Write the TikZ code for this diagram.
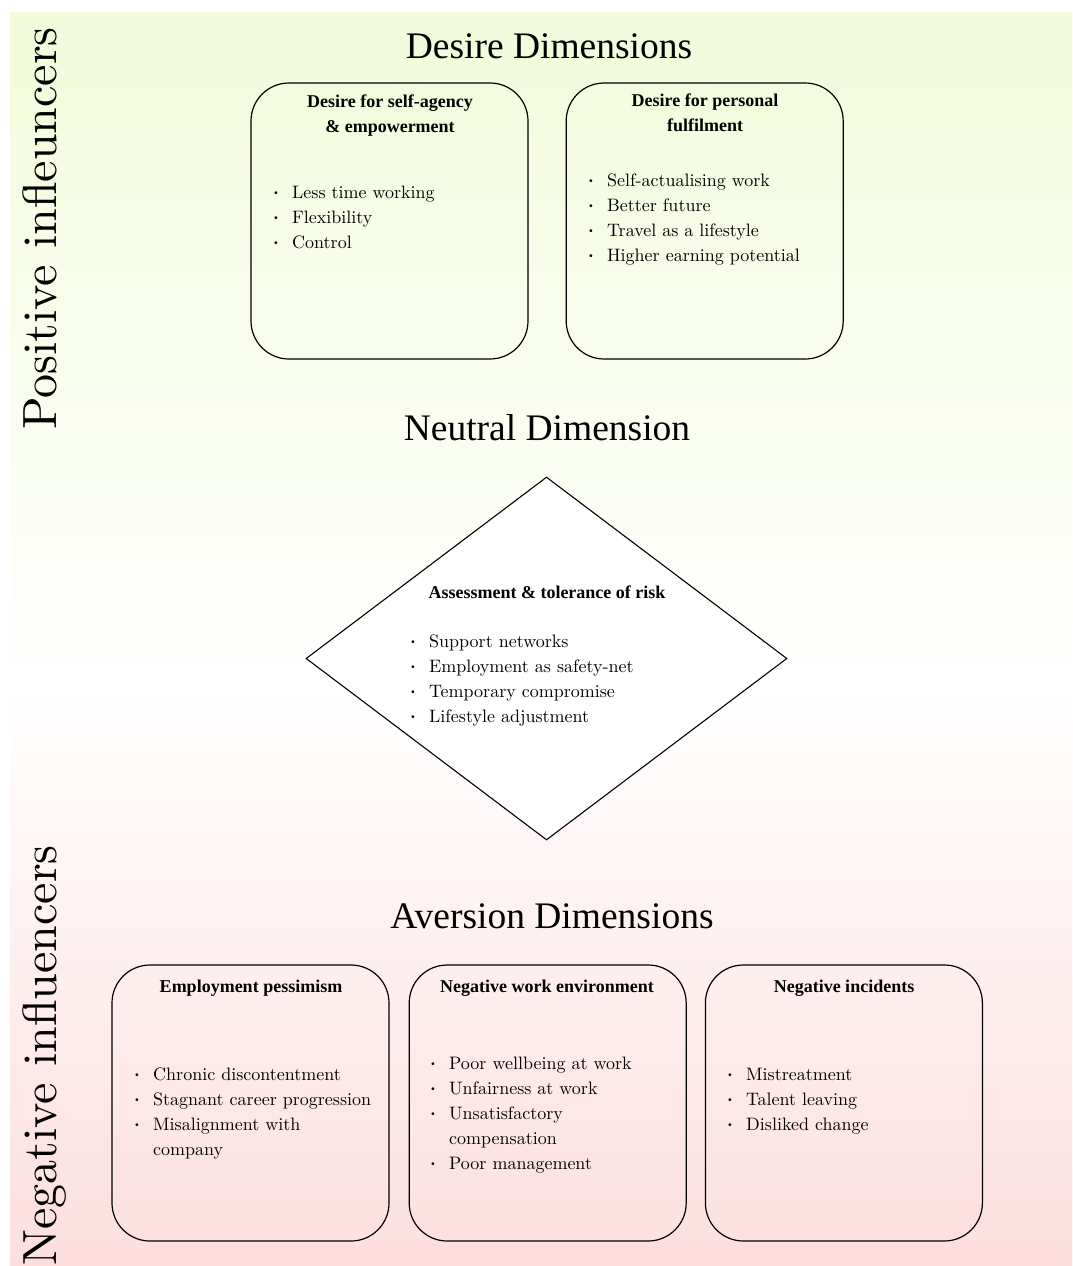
\documentclass[tikz,border=0pt]{standalone}
\usepackage{fontspec}
\newfontfamily\headfont{Liberation Serif}
\newfontfamily\bodyfont[Extension=.otf]{lmroman10-regular}
\usepackage{tikz}
\usetikzlibrary{positioning,shapes.geometric}
\definecolor{posgreen}{RGB}{242,251,218}
\definecolor{negpink}{RGB}{253,222,222}
\newcommand{\itm}{\makebox[20pt][l]{\raisebox{3pt}{\fontsize{10}{10}\selectfont\textbullet}}}
\newcommand{\cont}{\hspace*{20pt}}

\begin{document}
\begin{tikzpicture}[x=1pt,y=-1pt,
  dimbox/.style={draw,line width=1.2pt,rounded corners=38pt,minimum width=277pt,minimum height=276pt,inner sep=0pt},
  riskdiamond/.style={draw,line width=1.1pt,fill=white,diamond,minimum width=481pt,minimum height=363pt,inner sep=0pt},
  heading/.style={font=\headfont\fontsize{37.5}{40}\selectfont,inner sep=0pt,anchor=base},
  boxtitle/.style={font=\headfont\bfseries\fontsize{18}{25}\selectfont,inner sep=0pt,anchor=base},
  items/.style={font=\bodyfont\fontsize{18}{25}\selectfont,inner sep=0pt,anchor=base west},
  sidelabel/.style={font=\bodyfont\fontsize{48}{50}\selectfont,inner sep=0pt,rotate=90}]
\useasboundingbox (0,0) rectangle (1072,1266);
\clip (0,0) rectangle (1072,1266);
\fill[white] (0,0) rectangle (1072,1266);
\shade[top color=posgreen,bottom color=white] (10,12) rectangle (1072,691);
\shade[top color=white,bottom color=negpink] (10,690) rectangle (1072,1266);

\node[heading] (desire) at (549,58) {Desire Dimensions};
\node[dimbox] (agency) at (389.5,221) {};
\node[dimbox,right=37pt of agency] (fulfil) {};
\node[boxtitle] (agencyt) at (390,107) {\begin{tabular}[t]{@{}c@{}}Desire for self-agency\\ \& empowerment\end{tabular}};
\node[boxtitle] (fulfilt) at (705,106) {\begin{tabular}[t]{@{}c@{}}Desire for personal\\ fulfilment\end{tabular}};
\node[items] (agencyl) at (272,198) {\begin{tabular}[t]{@{}l@{}}\itm Less time working\\ \itm Flexibility\\ \itm Control\end{tabular}};
\node[items] (fulfill) at (587,186) {\begin{tabular}[t]{@{}l@{}}\itm Self-actualising work\\ \itm Better future\\ \itm Travel as a lifestyle\\ \itm Higher earning potential\end{tabular}};

\node[heading] (neutral) at (547,440) {Neutral Dimension};
\node[riskdiamond] (risk) at (546.5,658.5) {};
\node[boxtitle] (riskt) at (547,598) {Assessment \& tolerance of risk};
\node[items] (riskl) at (409,647) {\begin{tabular}[t]{@{}l@{}}\itm Support networks\\ \itm Employment as safety-net\\ \itm Temporary compromise\\ \itm Lifestyle adjustment\end{tabular}};

\node[heading] (aversion) at (552,928) {Aversion Dimensions};
\node[dimbox] (pessim) at (250.5,1103) {};
\node[dimbox,right=19pt of pessim] (workenv) {};
\node[dimbox,right=18pt of workenv] (incid) {};
\node[boxtitle] (pessimt) at (251,992) {Employment pessimism};
\node[boxtitle] (workenvt) at (547,992) {Negative work environment};
\node[boxtitle] (incidt) at (844,992) {Negative incidents};
\node[items] (pessiml) at (133,1080) {\begin{tabular}[t]{@{}l@{}}\itm Chronic discontentment\\ \itm Stagnant career progression\\ \itm Misalignment with\\ \cont company\end{tabular}};
\node[items] (workenvl) at (429,1069) {\begin{tabular}[t]{@{}l@{}}\itm Poor wellbeing at work\\ \itm Unfairness at work\\ \itm Unsatisfactory\\ \cont compensation\\ \itm Poor management\end{tabular}};
\node[items] (incidl) at (726,1080) {\begin{tabular}[t]{@{}l@{}}\itm Mistreatment\\ \itm Talent leaving\\ \itm Disliked change\end{tabular}};

\node[sidelabel,anchor=base west] (pos) at (56,430) {Positive infleuncers};
\node[sidelabel,anchor=base east] (neg) at (56,845) {Negative influencers};
\end{tikzpicture}
\end{document}
